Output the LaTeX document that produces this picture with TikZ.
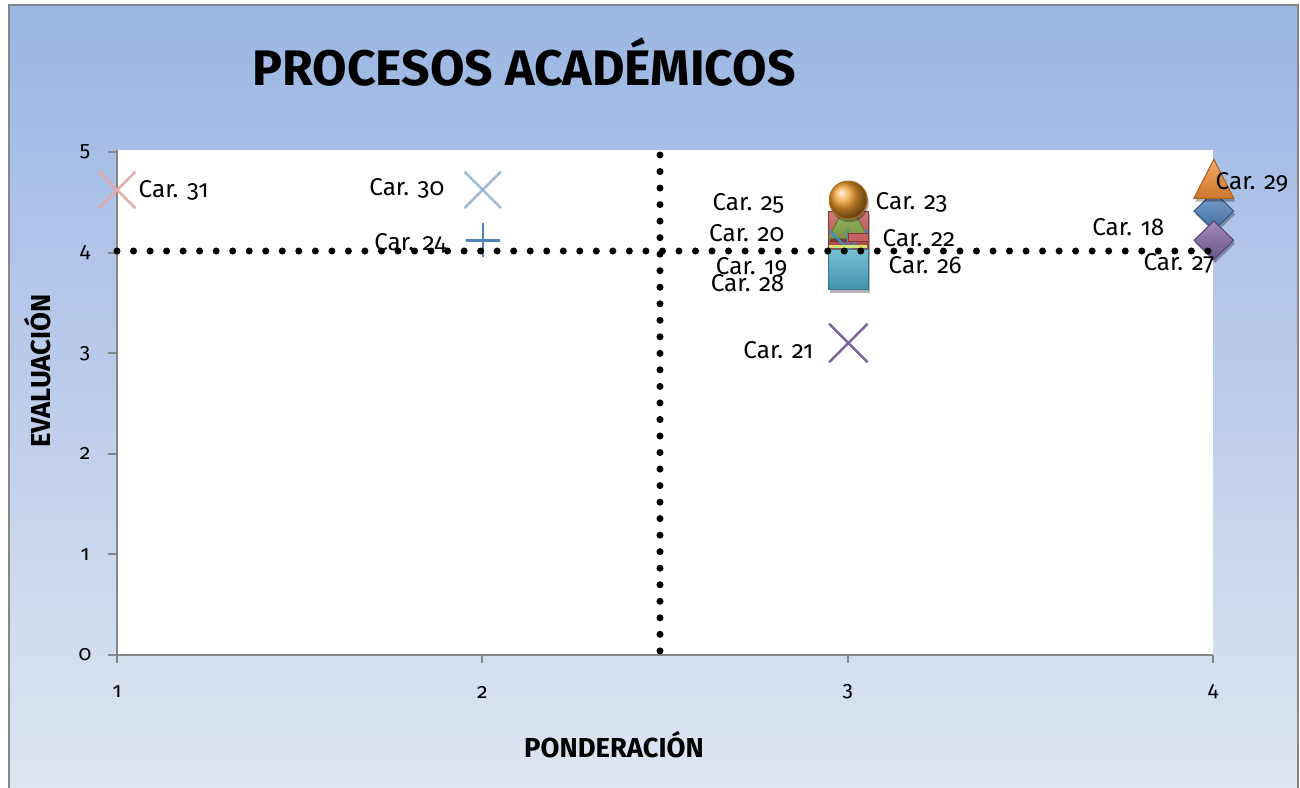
\documentclass[tikz,border=0pt]{standalone}
\usepackage{fontspec}
\setmainfont{Fira Sans}[Numbers=OldStyle]
\usetikzlibrary{shapes.geometric,shapes.misc,shadows}

\definecolor{frame}{RGB}{134,134,134}
\definecolor{bgtop}{RGB}{155,182,227}
\definecolor{bgbot}{RGB}{223,230,243}
\definecolor{xlblue}{RGB}{79,129,189}
\definecolor{xlred}{RGB}{192,80,77}
\definecolor{xlgreen}{RGB}{140,175,75}
\definecolor{xlpurple}{RGB}{128,100,162}
\definecolor{xlaqua}{RGB}{75,172,198}
\definecolor{xlorange}{RGB}{240,140,50}
\definecolor{xlpink}{RGB}{225,170,168}
\definecolor{xlsky}{RGB}{160,185,215}
\definecolor{xlstar}{RGB}{60,140,200}
\definecolor{xllime}{RGB}{215,228,120}

\tikzset{
	lbl/.style={font=\fontsize{6.9}{8}\selectfont, inner sep=0pt},
	ticklbl/.style={font=\fontsize{6}{7}\selectfont, inner sep=0pt},
	axtitle/.style={font=\bfseries\fontsize{7.8}{9}\selectfont, inner sep=0pt},
	axline/.style={draw=frame, line width=0.6pt},
	dotline/.style={line width=2pt, line cap=round, dash pattern=on 0pt off 4.7pt},
	mshadow/.style={drop shadow={shadow xshift=0.4pt, shadow yshift=-0.9pt, opacity=0.3, fill=black}},
	sq/.style={rectangle, minimum size=0.4cm, inner sep=0pt, draw=#1!70!black, line width=0.3pt, top color=#1!75!white, bottom color=#1!85!black, mshadow},
	dia/.style={diamond, minimum width=0.4cm, minimum height=0.39cm, inner sep=0pt, draw=#1!70!black, line width=0.3pt, top color=#1!75!white, bottom color=#1!85!black, mshadow},
	mball/.style={circle, minimum size=0.38cm, inner sep=0pt, draw=#1!70!black, line width=0.3pt, ball color=#1, mshadow},
	xmark/.style={cross out, minimum size=0.34cm, inner sep=0pt, draw=#1, line width=0.7pt},
	bar/.style={rectangle, minimum width=0.38cm, inner sep=0pt, fill=#1},
	pics/tri/.style={code={\path[draw=#1!70!black, line width=0.3pt, top color=#1!75!white, bottom color=#1!85!black, mshadow] (-0.2cm,-0.195cm) -- (0,0.195cm) -- (0.2cm,-0.195cm) -- cycle;}},
	pics/plus/.style={code={\draw[#1, line width=0.7pt] (-0.17cm,0) -- (0.17cm,0) (0,-0.17cm) -- (0,0.17cm);}},
}

\begin{document}
\begin{tikzpicture}[x=0.01cm, y=-0.01cm]
	\useasboundingbox (0,0) rectangle (1300,787);
	\fill[white] (0,0) rectangle (1300,787);
	\path[draw=frame, line width=0.5pt, top color=bgtop, bottom color=bgbot] (9,5) rectangle (1298,800);
	
	\node[font=\bfseries\fontsize{14.2}{17}\selectfont] (title) at (524,62) {PROCESOS ACADÉMICOS};
	
	\fill[white] (117,150) rectangle (1213,655);
	\draw[axline] (117,150) -- (117,655) -- (1213,655);
	\foreach \i in {0,...,5} {
		\draw[axline] (108,{655-100.6*\i}) -- (117,{655-100.6*\i});
		\node[ticklbl] (yl\i) at (85,{655-100.6*\i}) {\i};
	}
	\foreach \i in {1,...,4} {
		\draw[axline] ({117+365.33*(\i-1)},655) -- ({117+365.33*(\i-1)},663);
		\node[ticklbl] (xl\i) at ({117+365.33*(\i-1)},692) {\i};
	}
	\node[axtitle] (xtitle) at (614,745) {PONDERACIÓN};
	\node[axtitle, rotate=90] (ytitle) at (38,371) {EVALUACIÓN};
	
	\begin{scope}[shift={(-248.33,655)}, x=3.6533cm, y=1.006cm]
		\node[xmark=xlpink] (p31) at (1,4.62) {};
		\node[xmark=xlsky] (p30) at (2,4.62) {};
		\coordinate (p24) at (2,4.12);
		\pic at (p24) {plus=xlblue};
		\node[xmark=xlpurple, minimum size=0.36cm] (p21) at (3,3.1) {};
		
		\node[sq=xlred] (p25) at (3,4.21) {};
		\pic at (3,4.33) {tri=xlgreen};
		\coordinate (p20) at (3,4.33);
		\node[bar=gray!60!olive, minimum height=0.02cm] (p27b) at (3,4.175) {};
		\node[xmark=xlstar, minimum size=0.36cm, line width=0.6pt] (p19) at (3,4.03) {};
		\draw[xlstar, line width=0.6pt] (p19.north) -- (p19.south);
		\node[rectangle, minimum width=0.2cm, minimum height=0.08cm, inner sep=0pt, fill=xlred!90!white, draw=xlred!70!black, line width=0.3pt, xshift=0.1cm] (p22) at (3,4.145) {};
		\node[bar=xllime, minimum height=0.035cm] (p28) at (3,4.06) {};
		\node[sq=xlaqua] (p26) at (3,3.83) {};
		\node[mball=xlorange!85!yellow] (p23) at (3,4.52) {};
		
		\node[dia=xlblue] (p18) at (4,4.41) {};
		\node[dia=xlpurple] (p27) at (4,4.12) {};
		\coordinate (p29) at (4,4.73);
		\pic at (p29) {tri=xlorange};
	\end{scope}
	
	\node[lbl, anchor=west] (l31) at (138,190) {Car. 31};
	\node[lbl, anchor=east] (l30) at (445,188) {Car. 30};
	\node[lbl, anchor=east] (l24) at (447,243) {Car. 24};
	\node[lbl, anchor=east] (l25) at (785,203) {Car. 25};
	\node[lbl, anchor=east] (l20) at (785,233) {Car. 20};
	\node[lbl, anchor=east] (l19) at (788,267) {Car. 19};
	\node[lbl, anchor=east] (l28) at (785,283) {Car. 28};
	\node[lbl, anchor=west] (l23) at (875,202) {Car. 23};
	\node[lbl, anchor=west] (l22) at (882,238) {Car. 22};
	\node[lbl, anchor=west] (l26) at (888,265) {Car. 26};
	\node[lbl, anchor=east] (l21) at (814,350) {Car. 21};
	\node[lbl, anchor=west] (l29) at (1215,182) {Car. 29};
	\node[lbl, anchor=east] (l18) at (1165,227) {Car. 18};
	\node[lbl, anchor=east] (l27) at (1215,263) {Car. 27};
	
	\coordinate (hs) at (117,251);
	\coordinate (he) at (1212,251);
	\coordinate (vs) at (660,155);
	\coordinate (ve) at (660,658);
	\draw[dotline] (hs) -- (he);
	\draw[dotline] (vs) -- (ve);
\end{tikzpicture}
\end{document}
